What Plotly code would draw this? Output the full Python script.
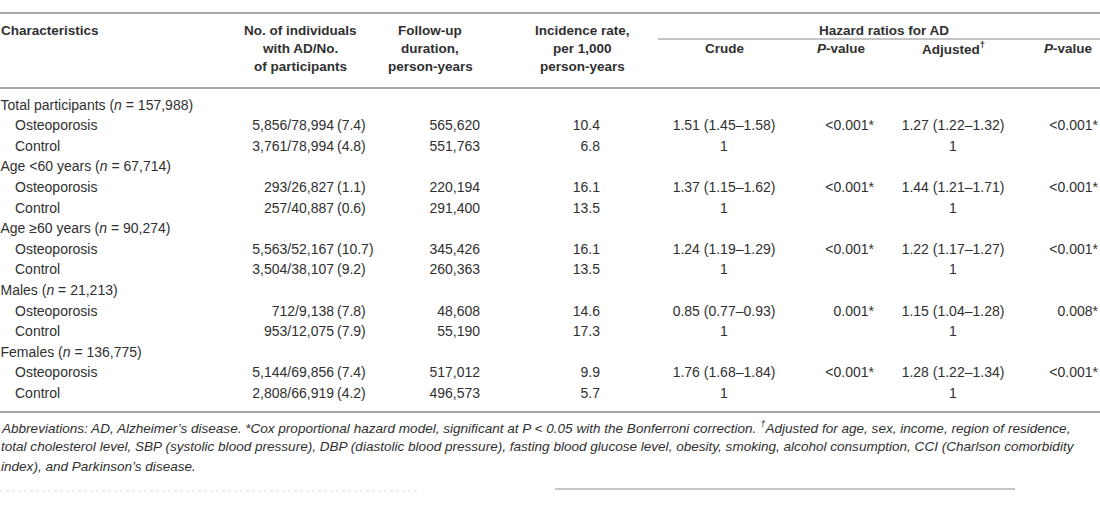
import plotly.graph_objects as go

# ---- table data ----
row_labels = [
    "Total participants (<i>n</i> = 157,988)", "Osteoporosis", "Control",
    "Age &lt;60 years (<i>n</i> = 67,714)", "Osteoporosis", "Control",
    "Age ≥60 years (<i>n</i> = 90,274)", "Osteoporosis", "Control",
    "Males (<i>n</i> = 21,213)", "Osteoporosis", "Control",
    "Females (<i>n</i> = 136,775)", "Osteoporosis", "Control",
]
is_group = [True, False, False] * 5

ad_counts = ["", "5,856/78,994", "3,761/78,994",
             "", "293/26,827", "257/40,887",
             "", "5,563/52,167", "3,504/38,107",
             "", "712/9,138", "953/12,075",
             "", "5,144/69,856", "2,808/66,919"]
ad_pct = ["", "(7.4)", "(4.8)", "", "(1.1)", "(0.6)", "", "(10.7)", "(9.2)",
          "", "(7.8)", "(7.9)", "", "(7.4)", "(4.2)"]
follow_up = ["", "565,620", "551,763", "", "220,194", "291,400", "", "345,426", "260,363",
             "", "48,608", "55,190", "", "517,012", "496,573"]
incidence = ["", "10.4", "6.8", "", "16.1", "13.5", "", "16.1", "13.5",
             "", "14.6", "17.3", "", "9.9", "5.7"]
crude_hr = ["", "1.51 (1.45–1.58)", "1", "", "1.37 (1.15–1.62)", "1",
            "", "1.24 (1.19–1.29)", "1", "", "0.85 (0.77–0.93)", "1",
            "", "1.76 (1.68–1.84)", "1"]
crude_p = ["", "&lt;0.001*", "", "", "&lt;0.001*", "", "", "&lt;0.001*", "",
           "", "0.001*", "", "", "&lt;0.001*", ""]
adj_hr = ["", "1.27 (1.22–1.32)", "1", "", "1.44 (1.21–1.71)", "1",
          "", "1.22 (1.17–1.27)", "1", "", "1.15 (1.04–1.28)", "1",
          "", "1.28 (1.22–1.34)", "1"]
adj_p = ["", "&lt;0.001*", "", "", "&lt;0.001*", "", "", "&lt;0.001*", "",
         "", "0.008*", "", "", "&lt;0.001*", ""]

# header: (lines, x position, anchor)
header_cols = [
    (["Characteristics"], 0, "left"),
    (["No. of individuals", "with AD/No.", "of participants"], 300, "center"),
    (["Follow-up", "duration,", "person-years"], 430, "center"),
    (["Incidence rate,", "per 1,000", "person-years"], 582, "center"),
    (["Hazard ratios for AD"], 884, "center"),
]
sub_headers = [("Crude", 724), ("<i>P</i>-value", 841), ("Adjusted<sup>†</sup>", 953), ("<i>P</i>-value", 1068)]

footnote_lines = [
    "Abbreviations: AD, Alzheimer’s disease. *Cox proportional hazard model, significant at P &lt; 0.05 with the "
    "Bonferroni correction. <sup>†</sup>Adjusted for age, sex, income, region of residence,",
    "total cholesterol level, SBP (systolic blood pressure), DBP (diastolic blood pressure), fasting blood glucose "
    "level, obesity, smoking, alcohol consumption, CCI (Charlson comorbidity",
    "index), and Parkinson’s disease.",
]

# ---- layout constants (pixels) ----
W, H = 1100, 512
TXT = "#303030"
RULE = "#8a8a8a"
FONT = "Liberation Sans"
FS = 14
FS_HEAD = 13.5
FS_NOTE = 13.55
row_y0, row_dy = 106, 20.6
rows_y = [row_y0 + i * row_dy for i in range(len(row_labels))]
head_y = [30, 48, 66]

fig = go.Figure()


def col(x, texts, pos):
    keep = [(y, t) for y, t in zip(rows_y, texts) if t]
    fig.add_trace(go.Scatter(
        x=[x] * len(keep), y=[k[0] for k in keep], text=[k[1] for k in keep], mode="text",
        textposition=pos, textfont=dict(family=FONT, size=FS, color=TXT),
        hoverinfo="skip", showlegend=False, cliponaxis=False))


# first column: group rows flush left, sub rows indented
col(0.5, [t if g else "" for t, g in zip(row_labels, is_group)], "middle right")
col(15, [t if not g else "" for t, g in zip(row_labels, is_group)], "middle right")
col(334, ad_counts, "middle left")
col(337, ad_pct, "middle right")
col(480, follow_up, "middle left")
col(600, incidence, "middle left")
col(724, crude_hr, "middle center")
col(874, crude_p, "middle left")
col(953, adj_hr, "middle center")
col(1098, adj_p, "middle left")

# header
for lines, x, al in header_cols:
    for i, line in enumerate(lines):
        fig.add_annotation(x=x, y=head_y[i], text="<b>%s</b>" % line, showarrow=False,
                           xanchor=al, yanchor="middle", xshift=-1 if al == "left" else 0,
                           font=dict(family=FONT, size=FS_HEAD, color=TXT))
for text, x in sub_headers:
    fig.add_annotation(x=x, y=head_y[1], text="<b>%s</b>" % text, showarrow=False,
                       yanchor="middle", font=dict(family=FONT, size=FS_HEAD, color=TXT))

# footnote
for i, line in enumerate(footnote_lines):
    fig.add_annotation(x=0, y=427 + i * 19.5, text="<i>%s</i>" % line, showarrow=False,
                       xanchor="left", yanchor="middle", xshift=-1,
                       font=dict(family=FONT, size=FS_NOTE, color=TXT))

# rules
for y0, x0, x1, w in [(13, 0, W, 1.6), (39, 658, W, 1.0), (88, 0, W, 1.6), (412, 0, W, 1.6)]:
    fig.add_shape(type="line", x0=x0, x1=x1, y0=y0, y1=y0, line=dict(color=RULE, width=w))
# faint remnants of the next table at the bottom edge
fig.add_shape(type="line", x0=0, x1=420, y0=491, y1=491, line=dict(color="#dadada", width=1, dash="dot"))
fig.add_shape(type="line", x0=555, x1=1015, y0=489, y1=489, line=dict(color="#b5b5b5", width=1.5))

fig.update_layout(
    width=W, height=H, margin=dict(l=0, r=0, t=0, b=0),
    paper_bgcolor="white", plot_bgcolor="white",
    xaxis=dict(range=[0, W], visible=False, fixedrange=True),
    yaxis=dict(range=[H, 0], visible=False, fixedrange=True),
)
fig.write_html("out.html", config={"displayModeBar": False},
               post_script="document.body.style.margin='0px';")
